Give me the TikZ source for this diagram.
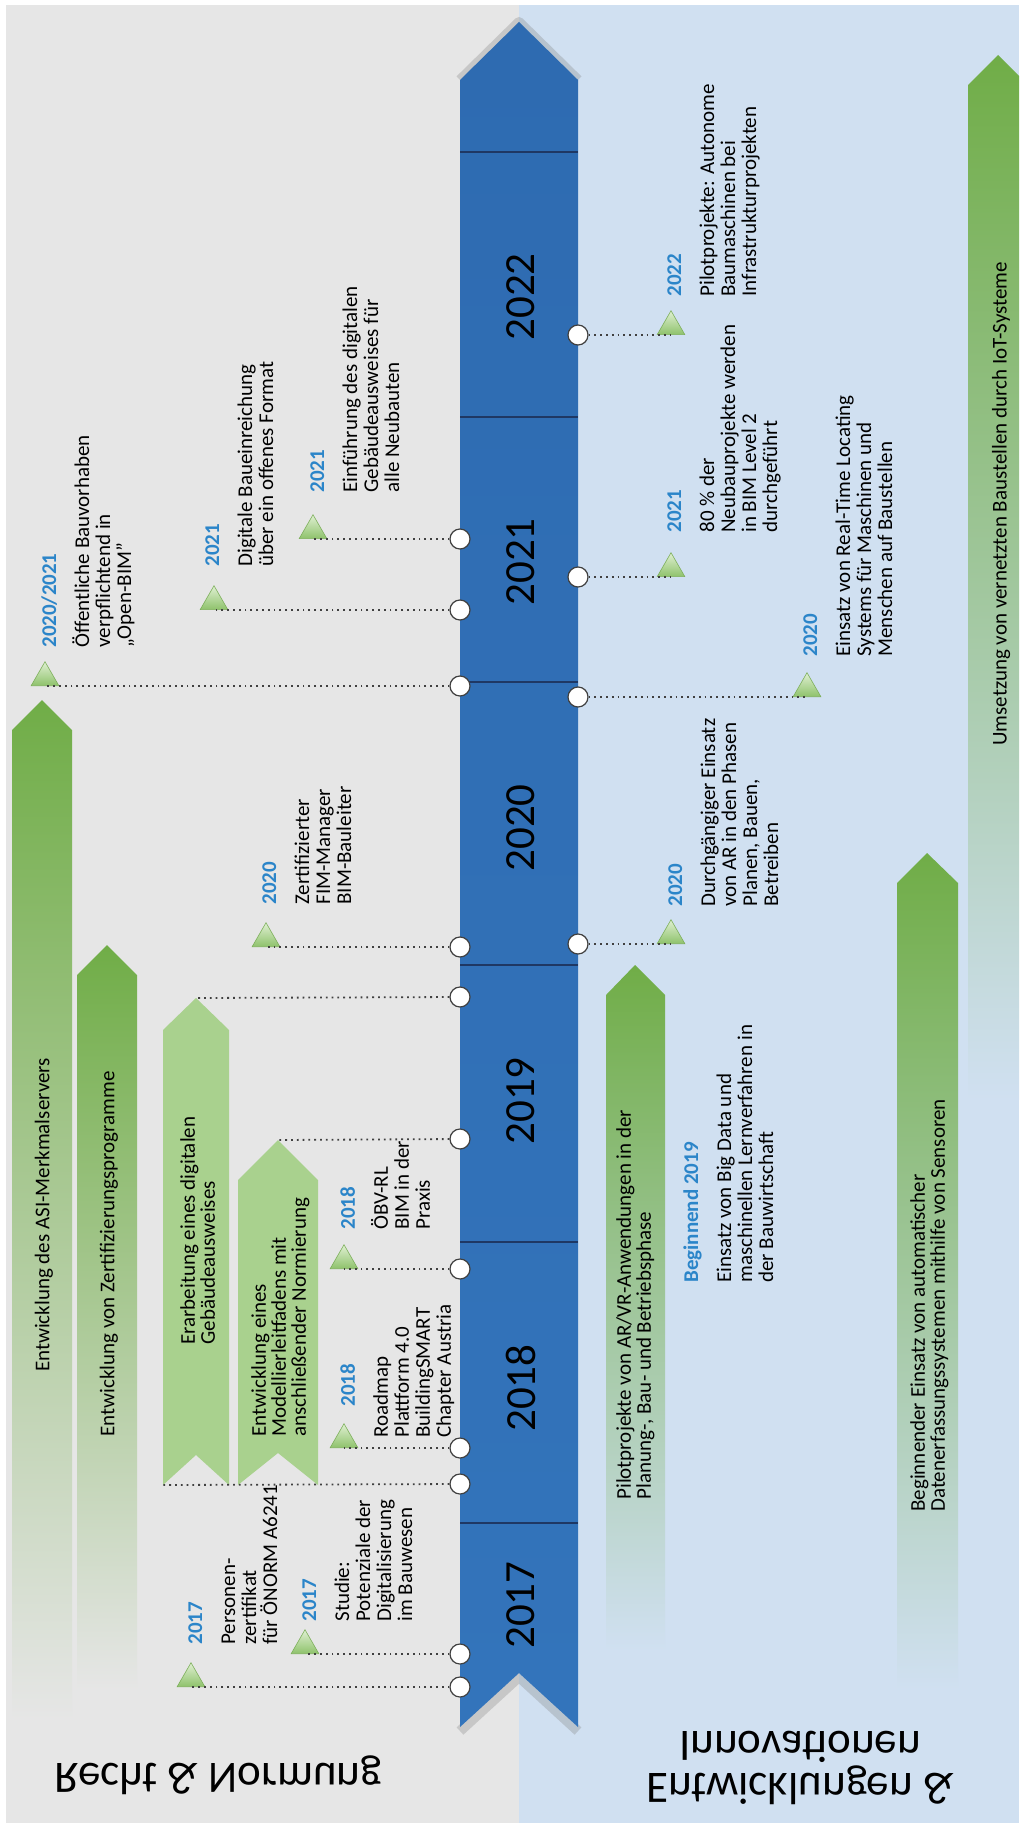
\documentclass[tikz,border=0pt]{standalone}
\usepackage{fontspec}
\setmainfont{Carlito}
\usetikzlibrary{shapes.geometric}

\definecolor{bggray}{HTML}{E6E6E6}
\definecolor{bgblue}{HTML}{D0E0F1}
\definecolor{arrowgreen}{HTML}{70AD47}
\definecolor{palegreen}{HTML}{A9D18E}
\definecolor{yearblue}{HTML}{2B85C9}
\definecolor{barblue}{HTML}{2E6BB1}
\definecolor{barlight}{HTML}{1F80DA}
\definecolor{barlow}{HTML}{3374BB}
\definecolor{divider}{HTML}{1F3864}
\definecolor{dotgray}{HTML}{404040}
\definecolor{markertop}{HTML}{E0F0D3}
\definecolor{markerbottom}{HTML}{8EC26B}
\definecolor{markeredge}{HTML}{7DAF5B}

\newcommand{\yr}[1]{\textbf{\textcolor{yearblue}{#1}}}

\begin{document}
\begin{tikzpicture}[x=0.5pt,y=-0.5pt,
  event/.style={rotate=90, anchor=north west, align=left, inner sep=0pt, font=\fontsize{10.5}{10.5}\selectfont},
  bartext/.style={rotate=90, align=left, inner sep=0pt, font=\fontsize{10.5}{10}\selectfont},
  yearlabel/.style={rotate=90, inner sep=0pt, font=\fontsize{21.5}{24}\selectfont},
  section/.style={inner sep=0pt, font=\fontsize{22.5}{21}\selectfont},
  knob/.style={circle, draw=dotgray, fill=white, line width=0.6pt, minimum size=10pt, inner sep=0pt},
  marker/.style={regular polygon, regular polygon sides=3, minimum size=16pt, inner sep=0pt, anchor=south,
    draw=markeredge, line width=0.3pt, top color=markertop, bottom color=markerbottom},
  link/.style={dotgray, dotted, line width=0.9pt}]

  \useasboundingbox (0,0) rectangle (1019,1823);
  % two halves of the page
  \fill[white] (0,0) rectangle (1019,1823);
  \fill[bggray] (6,5) rectangle (519,1823);
  \fill[bgblue] (519,5) rectangle (1019,1823);

  % green bars, left half
  \shade[top color=arrowgreen, middle color=arrowgreen!45!bggray, bottom color=bggray]
    (12,730) -- (42,700) -- (72,730) -- (72,1720) -- (12,1720) -- cycle;
  \shade[top color=arrowgreen, middle color=arrowgreen!45!bggray, bottom color=bggray]
    (77,975) -- (107,945) -- (137,975) -- (137,1690) -- (77,1690) -- cycle;
  \fill[palegreen] (163,1030) -- (196,998) -- (229,1030) -- (229,1485) -- (196,1455) -- (163,1485) -- cycle;
  \fill[palegreen] (238,1180) -- (278,1140) -- (318,1180) -- (318,1485) -- (278,1453) -- (238,1485) -- cycle;
  \coordinate (a3tip) at (196,998);
  \coordinate (a4tip) at (278,1140);
  \coordinate (a3foot) at (163,1485);

  % green bars, right half
  \shade[top color=arrowgreen, middle color=arrowgreen!45!bgblue, bottom color=bgblue]
    (606,995) -- (635,965) -- (665,995) -- (665,1650) -- (606,1650) -- cycle;
  \shade[top color=arrowgreen, middle color=arrowgreen!45!bgblue, bottom color=bgblue]
    (897,883) -- (927,853) -- (958,883) -- (958,1690) -- (897,1690) -- cycle;
  \shade[top color=arrowgreen, middle color=arrowgreen!40!bgblue, bottom color=bgblue]
    (968,85) -- (998,55) -- (1019,76) -- (1019,1100) -- (968,1100) -- cycle;

  % time axis
  \draw[gray, line width=5pt, opacity=0.3, line join=round] (460,80) -- (519,22) -- (578,80);
  \draw[gray, line width=5pt, opacity=0.3, line join=round] (460,1731) -- (519,1677) -- (578,1731);
  \shade[top color=barblue, middle color=barlight, bottom color=barlow]
    (460,80) -- (519,22) -- (578,80) -- (578,1727) -- (519,1673) -- (460,1727) -- cycle;
  \foreach \y in {152,417,682,965,1242,1523}
    \draw[divider, line width=1.2pt] (460,\y) -- (578,\y);
  \foreach \y/\jahr in {1605/2017, 1388/2018, 1101/2019, 828/2020, 562/2021, 297/2022}
    \node[yearlabel] (y\jahr) at (521,\y) {\jahr};

  % section titles (mirrored)
  \node[section, yscale=-1, anchor=base] (recht) at (218,1763) {Recht \& Normung};
  \node[section, yscale=-1, align=center] (entw) at (800,1768) {Entwicklungen \&\\Innovationen};

  % bar texts
  \node[bartext] (t-asi) at (44,1215) {Entwicklung des ASI-Merkmalservers};
  \node[bartext] (t-zert) at (109,1254) {Entwicklung von Zertifizierungsprogramme};
  \node[bartext, anchor=north west] (t-ausweis) at (180,1345) {Erarbeitung eines digitalen\\Gebäudeausweises};
  \node[bartext, anchor=north west] (t-leitf) at (251,1437) {Entwicklung eines\\Modellierleitfadens mit\\anschließender Normierung};
  \node[bartext, anchor=north west] (t-arvr) at (616,1500) {Pilotprojekte von AR/VR-Anwendungen in der\\Planung-, Bau- und Betriebsphase};
  \node[bartext, anchor=north west] (t-sensor) at (910,1512) {Beginnender Einsatz von automatischer\\Datenerfassungssystemen mithilfe von Sensoren};
  \node[bartext] (t-iot) at (1001,504) {Umsetzung von vernetzten Baustellen durch IoT-Systeme};

  % left events
  \node[knob] (c-e20a) at (460,686) {};
  \node[knob] (c-e21a) at (460,610) {};
  \node[knob] (c-e21b) at (460,539) {};
  \node[knob] (c-e20c) at (460,947) {};
  \node[knob] (c-a3) at (460,997) {};
  \node[knob] (c-a4) at (460,1139) {};
  \node[knob] (c-e18a) at (460,1269) {};
  \node[knob] (c-e18b) at (460,1448) {};
  \node[knob] (c-foot) at (460,1484) {};
  \node[knob] (c-e17b) at (460,1654) {};
  \node[knob] (c-e17a) at (460,1687) {};

  \node[marker] (t-e20a) at (45,686) {};
  \node[marker] (t-e21a) at (214,610) {};
  \node[marker] (t-e21b) at (313,539) {};
  \node[marker] (t-e20c) at (266,947) {};
  \node[marker] (t-e18a) at (344,1269) {};
  \node[marker] (t-e18b) at (344,1448) {};
  \node[marker] (t-e17b) at (305,1654) {};
  \node[marker] (t-e17a) at (191,1687) {};

  \draw[link] (c-e20a) -- (t-e20a.south);
  \draw[link] (c-e21a) -- (t-e21a.south);
  \draw[link] (c-e21b) -- (t-e21b.south);
  \draw[link] (c-e20c) -- (t-e20c.south);
  \draw[link] (c-a3) -- (a3tip);
  \draw[link] (c-a4) -- (a4tip);
  \draw[link] (c-e18a) -- (t-e18a.south);
  \draw[link] (c-e18b) -- (t-e18b.south);
  \draw[link] (c-foot) -- (a3foot);
  \draw[link] (c-e17b) -- (t-e17b.south);
  \draw[link] (c-e17a) -- (t-e17a.south);

  \node[event] (e20a) at (41,648) {\yr{2020/2021}\\[6pt]Öffentliche Bauvorhaben\\verpflichtend in\\„Open-BIM”};
  \node[event] (e21a) at (205,567) {\yr{2021}\\[6pt]Digitale Baueinreichung\\über ein offenes Format};
  \node[event] (e21b) at (310,493) {\yr{2021}\\[6pt]Einführung des digitalen\\Gebäudeausweises für\\alle Neubauten};
  \node[event] (e20c) at (262,905) {\yr{2020}\\[6pt]Zertifizierter\\FIM-Manager\\BIM-Bauleiter};
  \node[event] (e18a) at (340,1230) {\yr{2018}\\[6pt]ÖBV-RL\\BIM in der\\Praxis};
  \node[event] (e18b) at (340,1438) {\hspace*{15.5pt}\yr{2018}\\[6pt]Roadmap\\Plattform 4.0\\BuildingSMART\\Chapter Austria};
  \node[event] (e17a) at (188,1645) {\yr{2017}\\[6pt]Personen-\\zertifikat\\für ÖNORM A6241};
  \node[event] (e17b) at (302,1622) {\yr{2017}\\[6pt]Studie:\\Potenziale der\\Digitalisierung\\im Bauwesen};

  % right events
  \node[knob] (c-f22) at (578,335) {};
  \node[knob] (c-f21) at (578,577) {};
  \node[knob] (c-f20a) at (578,697) {};
  \node[knob] (c-f20b) at (578,944) {};

  \node[marker] (t-f22) at (671,335) {};
  \node[marker] (t-f21) at (671,577) {};
  \node[marker] (t-f20a) at (807,697) {};
  \node[marker] (t-f20b) at (671,944) {};

  \draw[link] (c-f22) -- (t-f22.south);
  \draw[link] (c-f21) -- (t-f21.south);
  \draw[link] (c-f20a) -- (t-f20a.south);
  \draw[link] (c-f20b) -- (t-f20b.south);

  \node[event] (f22) at (667,297) {\yr{2022}\\[6pt]Pilotprojekte: Autonome\\Baumaschinen bei\\Infrastrukturprojekten};
  \node[event] (f21) at (667,533) {\yr{2021}\\[6pt]80 \% der\\Neubauprojekte werden\\in BIM Level 2\\durchgeführt};
  \node[event] (f20a) at (803,657) {\yr{2020}\\[6pt]Einsatz von Real-Time Locating\\Systems für Maschinen und\\Menschen auf Baustellen};
  \node[event] (f20b) at (668,907) {\yr{2020}\\[6pt]Durchgängiger Einsatz\\von AR in den Phasen\\Planen, Bauen,\\Betreiben};
  \node[event] (f19) at (683,1283) {\yr{Beginnend 2019}\\[6pt]Einsatz von Big Data und\\maschinellen Lernverfahren in\\der Bauwirtschaft};
\end{tikzpicture}
\end{document}
